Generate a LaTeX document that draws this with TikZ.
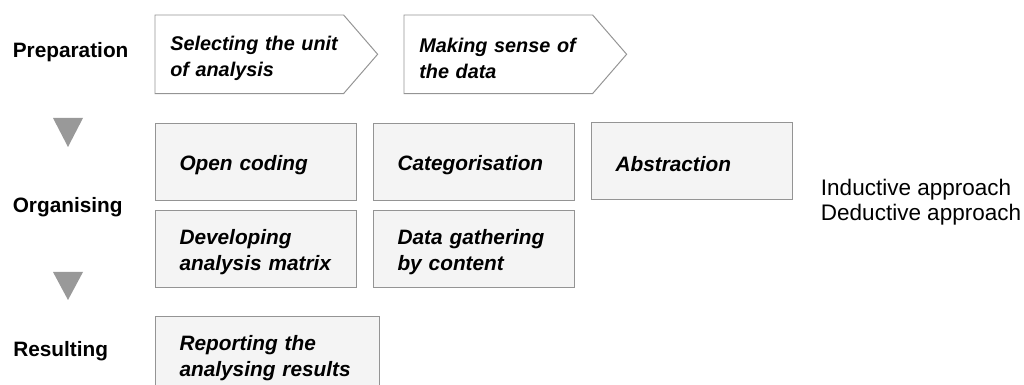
\documentclass[tikz,border=0pt]{standalone}
\usepackage{fontspec}
\setmainfont{Liberation Sans}
\usetikzlibrary{positioning}

\begin{document}
\begin{tikzpicture}[x=0.025cm, y=-0.025cm,
  stage/.style={anchor=base west, inner sep=0pt,
                font=\fontsize{14.8}{17}\selectfont\bfseries},
  phase/.style={rectangle, anchor=north west, minimum height=1.95cm,
                inner xsep=0.375cm, text width=3.95cm, align=left,
                execute at begin node={\rule{0pt}{16pt}},
                font=\fontsize{14.1}{19}\selectfont\bfseries\itshape},
  outline/.style={draw=black!42, line width=0.7pt},
  stepbox/.style={rectangle, anchor=north west, draw=black!42, line width=0.7pt,
                  fill=gray!9, minimum width=5.025cm, minimum height=1.925cm,
                  inner xsep=0.6cm, text width=3.825cm, align=left,
                  execute at begin node={\rule{0pt}{15pt}},
                  font=\fontsize{14.8}{18.5}\selectfont\bfseries\itshape},
  marker/.style={fill=black!40}
]
\useasboundingbox (0,0) rectangle (1024,385);
\def\xA{155}
\def\xB{373}
\def\xC{591}

% stage names
\node[stage] (prep) at (12.5, 58) {Preparation};
\node[stage] (org)  at (12.5, 213) {Organising};
\node[stage] (res)  at (13, 357) {Resulting};

\fill[marker] (53,118) -- (83,118) -- (68,147) -- cycle;
\fill[marker] (53,272) -- (83,272) -- (68,300) -- cycle;

% preparation
\node[phase] (unit)  at (\xA, 15) {\mbox{Selecting the unit}\\of analysis};
\node[phase] (sense) at (404, 15) {Making sense of\\the data};
\foreach \p in {unit, sense}
  \draw[outline] (\p.north west) -- (\p.north east) -- ([xshift=0.85cm]\p.east)
    -- (\p.south east) -- (\p.south west) -- cycle;

% organising
\node[stepbox] (opencode) at (\xA, 123) {Open coding};
\node[stepbox] (categ)    at (\xB, 123) {Categorisation};
\node[stepbox] (abstr)    at (\xC, 122) {Abstraction};
\node[stepbox] (matrix)   at (\xA, 210) {Developing\\analysis matrix};
\node[stepbox] (gather)   at (\xB, 210) {Data gathering\\by content};

% resulting
\node[stepbox, minimum width=5.6cm, text width=4.4cm] (report) at (\xA, 316)
  {Reporting the\\analysing results};

\node[anchor=west, align=left, font=\fontsize{16}{17.7}\selectfont] (approach)
  at (816, 202) {Inductive approach\\Deductive approach};
\end{tikzpicture}
\end{document}
